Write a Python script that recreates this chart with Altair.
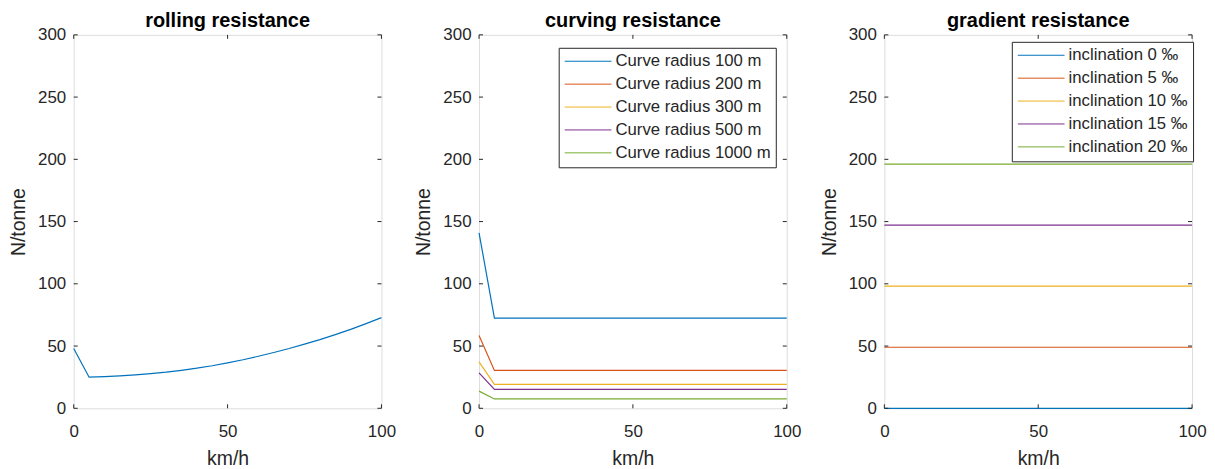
import altair as alt
import pandas as pd

# ---------------- data ----------------
speed_roll = [0, 5, 10, 15, 20, 25, 30, 35, 40, 45, 50, 55, 60, 65, 70, 75, 80, 85, 90, 95, 100]
rolling = [48, 25, 25.4, 26, 26.8, 27.8, 29, 30.5, 32.2, 34.2, 36.5, 39, 41.8, 44.8, 48, 51.5, 55.2, 59.2, 63.4, 68, 72.8]

speed_curve = [0, 5, 100]
curve_labels = ["Curve radius 100 m", "Curve radius 200 m", "Curve radius 300 m",
                "Curve radius 500 m", "Curve radius 1000 m"]
curve_100 = [141, 72.5, 72.5]
curve_200 = [58.5, 30.4, 30.4]
curve_300 = [37.3, 19.2, 19.2]
curve_500 = [28.5, 15.2, 15.2]
curve_1000 = [13.8, 7.5, 7.5]

speed_grad = [0, 100]
grad_labels = ["inclination 0 \u2030", "inclination 5 \u2030", "inclination 10 \u2030",
               "inclination 15 \u2030", "inclination 20 \u2030"]
grad_values = [0, 49.05, 98.1, 147.15, 196.2]

x_ticks = [0, 50, 100]
y_ticks = [0, 50, 100, 150, 200, 250, 300]

colors = ["#0072BD", "#D95319", "#EDB120", "#7E2F8E", "#77AC30"]

# ---------------- tables ----------------
df_roll = pd.DataFrame({"v": speed_roll, "r": rolling})

rows = []
for lab, vals in zip(curve_labels, [curve_100, curve_200, curve_300, curve_500, curve_1000]):
    for v, r in zip(speed_curve, vals):
        rows.append({"v": v, "r": r, "s": lab})
df_curve = pd.DataFrame(rows)

rows = []
for lab, g in zip(grad_labels, grad_values):
    for v in speed_grad:
        rows.append({"v": v, "r": g, "s": lab})
df_grad = pd.DataFrame(rows)

df_xt = pd.DataFrame({"v": x_ticks})
df_yt = pd.DataFrame({"r": y_ticks})

# ---------------- style ----------------
W, H = 309, 375
FONT = "Liberation Sans"
TXT = "#262626"
TL = 4

xscale = alt.Scale(domain=[0, 100], nice=False, zero=False)
yscale = alt.Scale(domain=[0, 300], nice=False, zero=False)

xaxis = alt.Axis(values=x_ticks, title="km/h", ticks=False, domain=False, grid=False,
                 labelFlush=False, labelFont=FONT, labelFontSize=17, labelColor=TXT,
                 labelPadding=15, titleFont=FONT, titleFontSize=19.5, titleFontWeight="normal",
                 titleColor=TXT, titlePadding=10)
yaxis = alt.Axis(values=y_ticks, title="N/tonne", ticks=False, domain=False, grid=False,
                 labelFlush=False, labelFont=FONT, labelFontSize=17, labelColor=TXT,
                 labelPadding=8, titleFont=FONT, titleFontSize=19.5, titleFontWeight="normal",
                 titleColor=TXT, titlePadding=9)

X = alt.X("v:Q", scale=xscale, axis=xaxis)
Y = alt.Y("r:Q", scale=yscale, axis=yaxis)


def tick_layers():
    b = alt.Chart(df_xt).mark_rule(color=TXT, strokeWidth=1).encode(
        x=X, y=alt.value(H), y2=alt.value(H - TL))
    t = alt.Chart(df_xt).mark_rule(color=TXT, strokeWidth=1).encode(
        x=X, y=alt.value(0), y2=alt.value(TL))
    l = alt.Chart(df_yt).mark_rule(color=TXT, strokeWidth=1).encode(
        y=Y, x=alt.value(0), x2=alt.value(TL))
    r = alt.Chart(df_yt).mark_rule(color=TXT, strokeWidth=1).encode(
        y=Y, x=alt.value(W - TL), x2=alt.value(W))
    return [b, t, l, r]


def title(txt):
    return alt.Title(txt, font=FONT, fontSize=20, fontWeight="bold", color="black", offset=-5)


def legend(lx, ly):
    return alt.Legend(title=None, orient="none", legendX=lx, legendY=ly,
                      symbolType="M-3,0H3", symbolSize=245, symbolStrokeWidth=1,
                      symbolOffset=16, labelOffset=19,
                      labelFont=FONT, labelFontSize=16.8, labelColor=TXT,
                      strokeColor=TXT, fillColor="white", padding=5, rowPadding=5,
                      cornerRadius=0)


p1 = alt.layer(
    alt.Chart(df_roll).mark_line(color=colors[0], strokeWidth=1.2).encode(x=X, y=Y),
    *tick_layers()
).properties(width=W, height=H, title=title("rolling resistance"))

p2 = alt.layer(
    alt.Chart(df_curve).mark_line(strokeWidth=1.2).encode(
        x=X, y=Y,
        color=alt.Color("s:N", scale=alt.Scale(domain=curve_labels, range=colors),
                        legend=legend(80, 13))),
    *tick_layers()
).properties(width=W, height=H, title=title("curving resistance"))

p3 = alt.layer(
    alt.Chart(df_grad).mark_line(strokeWidth=1.2).encode(
        x=X, y=Y,
        color=alt.Color("s:N", scale=alt.Scale(domain=grad_labels, range=colors),
                        legend=legend(128, 7))),
    *tick_layers()
).properties(width=W, height=H, title=title("gradient resistance"))

chart = alt.hconcat(p1, p2, p3, spacing=98, bounds="flush").resolve_scale(
    color="independent").resolve_legend(color="independent").properties(
    padding={"left": 0, "top": 1, "right": 0, "bottom": 0}
).configure_view(stroke=TXT, strokeWidth=1).configure(background="white")

chart.save("out.html", embed_options={"renderer": "svg", "actions": False})
